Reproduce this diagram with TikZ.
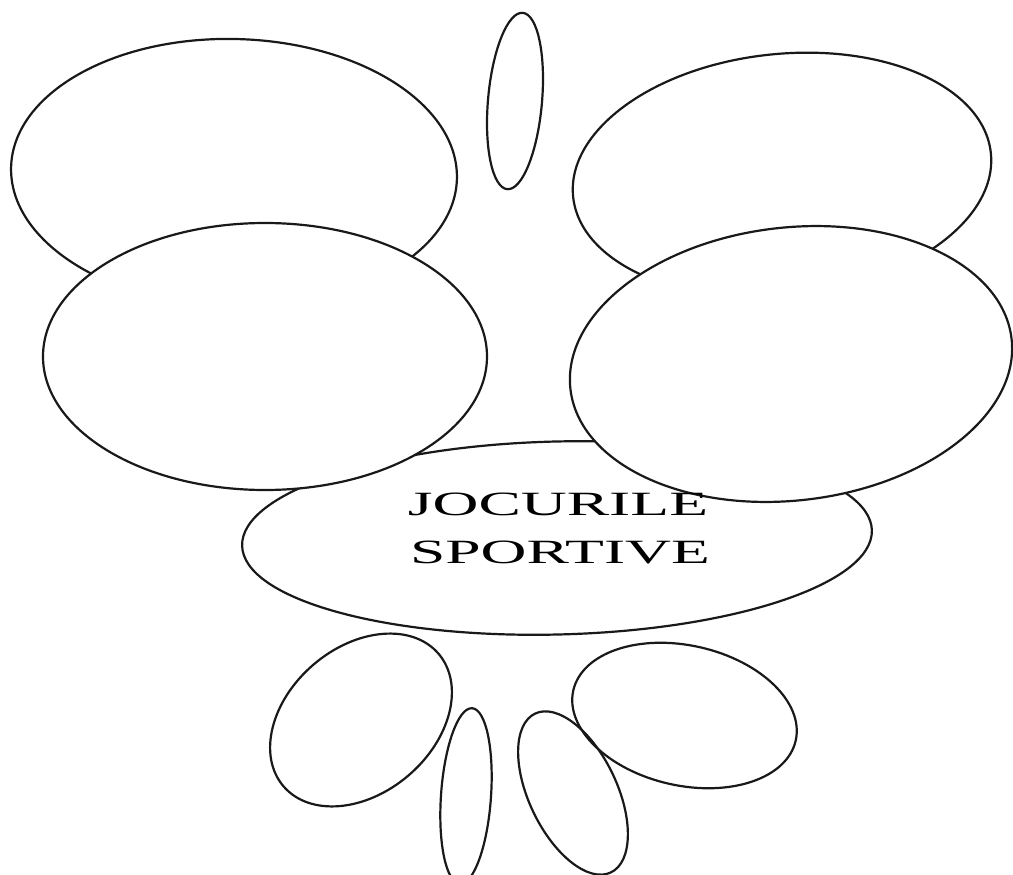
\documentclass[tikz,border=0pt]{standalone}
\usepackage{fontspec}
\setmainfont{Liberation Serif}
\usetikzlibrary{shapes.geometric}
\tikzset{
  oval/.style={ellipse, draw=black!90, line width=2.2pt, inner sep=0pt, outer sep=0pt},
  wfill/.style={fill=white},
  title/.style={font=\fontsize{34}{48}\selectfont, inner sep=0pt, anchor=base}
}
\begin{document}
\begin{tikzpicture}[x=1pt,y=-1pt]
\useasboundingbox (0,0) rectangle (1013,875);
% upper row (behind)
\node[oval,wfill,minimum width=446pt,minimum height=268pt,rotate=-1.5] (tl) at (234,173) {};
\node[oval,wfill,minimum width=420pt,minimum height=242pt,rotate=6] (tr) at (782,175) {};
% central
\node[oval,wfill,minimum width=630pt,minimum height=193pt,rotate=1.4] (center) at (557,538) {};
% middle row (front)
\node[oval,wfill,minimum width=444pt,minimum height=267pt] (ml) at (265,356.5) {};
\node[oval,wfill,minimum width=444pt,minimum height=273pt,rotate=6.5] (mr) at (791,364) {};
% small top
\node[oval,minimum width=54pt,minimum height=177pt,rotate=-5] (top) at (515,101) {};
% bottom petals
\node[oval,minimum width=204pt,minimum height=146pt,rotate=40.5] (bl) at (361,720) {};
\node[oval,minimum width=50pt,minimum height=176pt,rotate=-4] (bv) at (466,796) {};
\node[oval,minimum width=88pt,minimum height=176pt,rotate=25.5] (bt) at (573,793) {};
\node[oval,minimum width=228pt,minimum height=140pt,rotate=-12.7] (br) at (684.5,715.5) {};
% label
\node[title] (t1) at (558,515) {\scalebox{1.87}[1]{JOCURILE}};
\node[title] (t2) at (560,563) {\scalebox{1.87}[1]{SPORTIVE}};
\end{tikzpicture}
\end{document}
